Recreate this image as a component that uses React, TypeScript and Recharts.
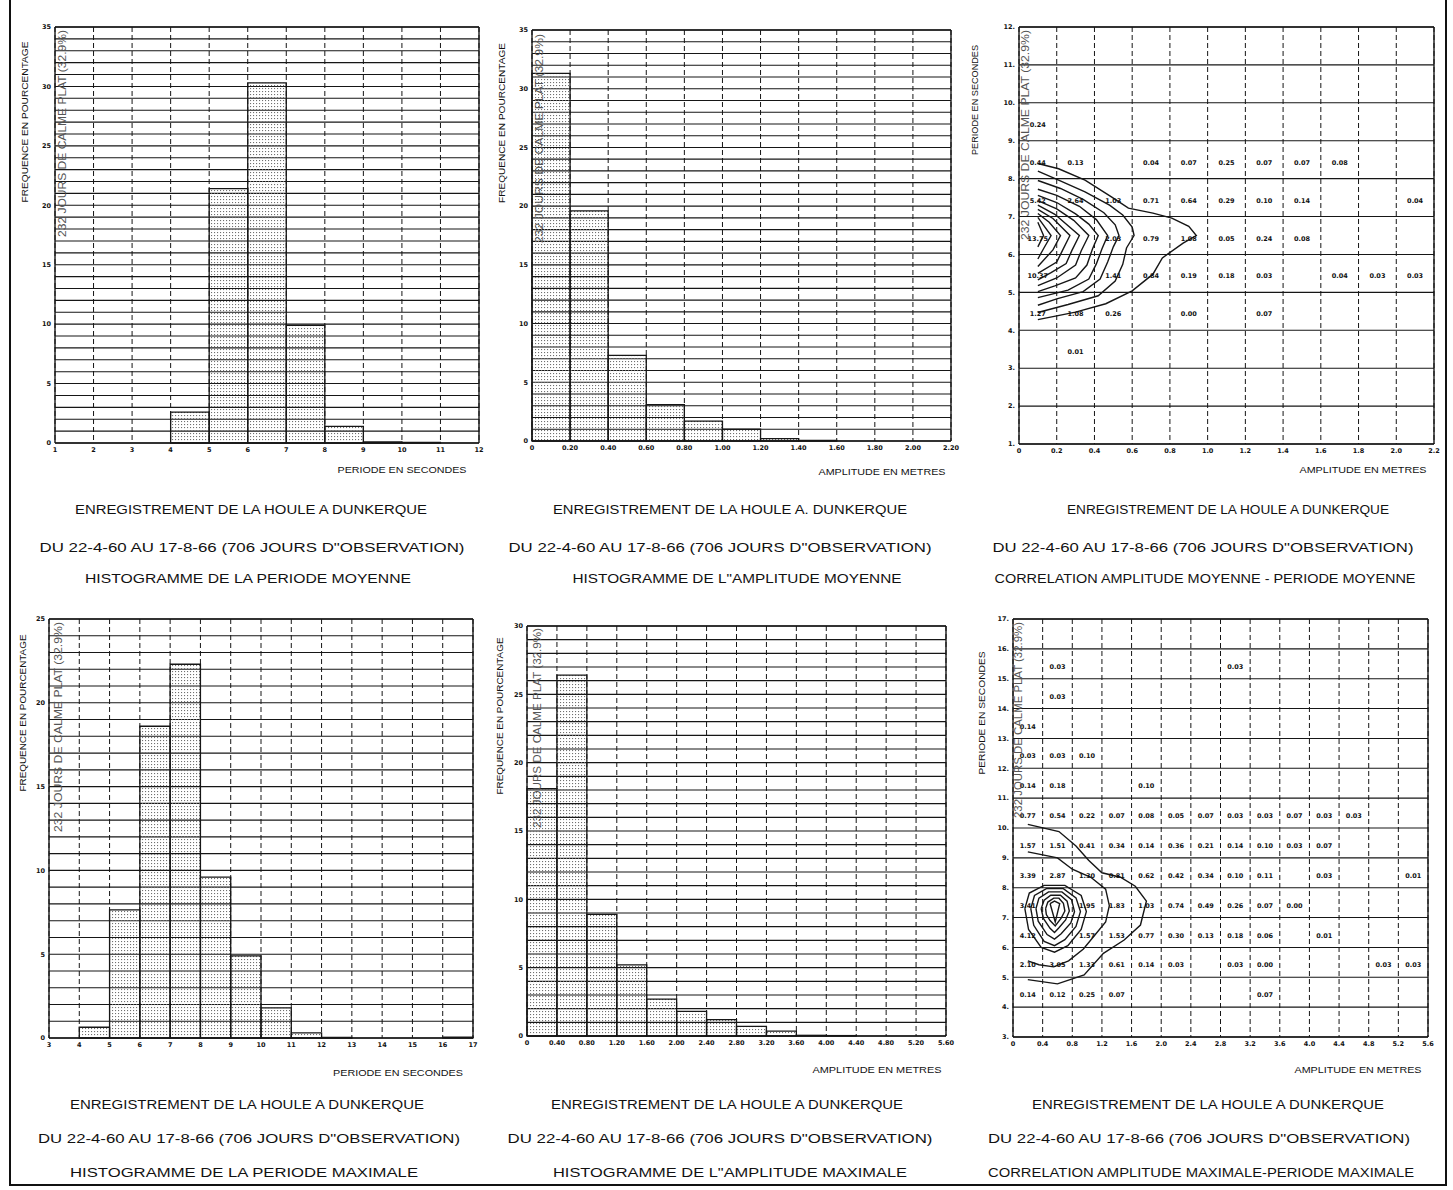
import React from "react";
import {
  ScatterChart,
  Scatter,
  XAxis,
  YAxis,
  CartesianGrid,
  ReferenceLine,
  ReferenceArea,
} from "recharts";

// ---- histogram: periode moyenne (s), bins of 1 s ----
const periodeMoyEdges = [1, 2, 3, 4, 5, 6, 7, 8, 9, 10, 11, 12];
const periodeMoyXLabels = ["1", "2", "3", "4", "5", "6", "7", "8", "9", "10", "11", "12"];
const periodeMoyPct = [0, 0, 0, 2.6, 21.4, 30.3, 9.9, 1.4, 0.1, 0.05, 0];

// ---- histogram: amplitude moyenne (m), bins of 0.20 m ----
const amplMoyEdges = [0, 0.2, 0.4, 0.6, 0.8, 1.0, 1.2, 1.4, 1.6, 1.8, 2.0, 2.2];
const amplMoyXLabels = ["0", "0.20", "0.40", "0.60", "0.80", "1.00", "1.20", "1.40", "1.60", "1.80", "2.00", "2.20"];
const amplMoyPct = [31.3, 19.6, 7.3, 3.1, 1.7, 1.0, 0.2, 0.05, 0, 0, 0];

// ---- histogram: periode maximale (s) ----
const periodeMaxEdges = [3, 4, 5, 6, 7, 8, 9, 10, 11, 12, 13, 14, 15, 16, 17];
const periodeMaxXLabels = ["3", "4", "5", "6", "7", "8", "9", "10", "11", "12", "13", "14", "15", "16", "17"];
const periodeMaxPct = [0, 0.64, 7.65, 18.6, 22.3, 9.6, 4.9, 1.8, 0.3, 0.03, 0, 0, 0, 0.05];

// ---- histogram: amplitude maximale (m), bins of 0.40 m ----
const amplMaxEdges = [0, 0.4, 0.8, 1.2, 1.6, 2.0, 2.4, 2.8, 3.2, 3.6, 4.0, 4.4, 4.8, 5.2, 5.6];
const amplMaxXLabels = ["0", "0.40", "0.80", "1.20", "1.60", "2.00", "2.40", "2.80", "3.20", "3.60", "4.00", "4.40", "4.80", "5.20", "5.60"];
const amplMaxPct = [18.1, 26.4, 8.9, 5.2, 2.7, 1.8, 1.2, 0.7, 0.35, 0.05, 0.03, 0, 0, 0];

// frequency axes (one grid line per percent)
const freqTicks35 = [0, 1, 2, 3, 4, 5, 6, 7, 8, 9, 10, 11, 12, 13, 14, 15, 16, 17, 18, 19, 20, 21, 22, 23, 24, 25, 26, 27, 28, 29, 30, 31, 32, 33, 34, 35];
const freqTicks30 = [0, 1, 2, 3, 4, 5, 6, 7, 8, 9, 10, 11, 12, 13, 14, 15, 16, 17, 18, 19, 20, 21, 22, 23, 24, 25, 26, 27, 28, 29, 30];
const freqTicks25 = [0, 1, 2, 3, 4, 5, 6, 7, 8, 9, 10, 11, 12, 13, 14, 15, 16, 17, 18, 19, 20, 21, 22, 23, 24, 25];

// ---- correlation amplitude moyenne / periode moyenne ----
const corrMoyXTicks = [0, 0.2, 0.4, 0.6, 0.8, 1.0, 1.2, 1.4, 1.6, 1.8, 2.0, 2.2];
const corrMoyXLabels = ["0", "0.2", "0.4", "0.6", "0.8", "1.0", "1.2", "1.4", "1.6", "1.8", "2.0", "2.2"];
const corrMoyYTicks = [1, 2, 3, 4, 5, 6, 7, 8, 9, 10, 11, 12];
const corrMoyYLabels = ["1.", "2.", "3.", "4.", "5.", "6.", "7.", "8.", "9.", "10.", "11.", "12."];
// [amplitude, periode, pourcentage]
const corrMoyCells: [number, number, string][] = [
  [0.1, 9.5, "0.24"],
  [0.1, 8.5, "0.44"], [0.3, 8.5, "0.13"], [0.7, 8.5, "0.04"], [0.9, 8.5, "0.07"], [1.1, 8.5, "0.25"], [1.3, 8.5, "0.07"], [1.5, 8.5, "0.07"], [1.7, 8.5, "0.08"],
  [0.1, 7.5, "5.42"], [0.3, 7.5, "2.64"], [0.5, 7.5, "1.03"], [0.7, 7.5, "0.71"], [0.9, 7.5, "0.64"], [1.1, 7.5, "0.29"], [1.3, 7.5, "0.10"], [1.5, 7.5, "0.14"], [2.1, 7.5, "0.04"],
  [0.1, 6.5, "13.75"], [0.5, 6.5, "2.03"], [0.7, 6.5, "0.79"], [0.9, 6.5, "1.08"], [1.1, 6.5, "0.05"], [1.3, 6.5, "0.24"], [1.5, 6.5, "0.08"],
  [0.1, 5.5, "10.37"], [0.5, 5.5, "1.41"], [0.7, 5.5, "0.84"], [0.9, 5.5, "0.19"], [1.1, 5.5, "0.18"], [1.3, 5.5, "0.03"], [1.7, 5.5, "0.04"], [1.9, 5.5, "0.03"], [2.1, 5.5, "0.03"],
  [0.1, 4.5, "1.27"], [0.3, 4.5, "1.08"], [0.5, 4.5, "0.26"], [0.9, 4.5, "0.00"], [1.3, 4.5, "0.07"],
  [0.3, 3.5, "0.01"],
];
const corrMoyContours: [number, number][][] = [
  [[0.1, 8.4], [0.21, 8.26], [0.35, 7.96], [0.49, 7.52], [0.58, 7.22], [0.71, 7.09], [0.81, 6.96], [0.9, 6.74], [0.94, 6.5], [0.87, 6.3], [0.76, 5.91], [0.71, 5.48], [0.6, 5.04], [0.46, 4.7], [0.3, 4.48], [0.1, 4.28]],
  [[0.1, 8.2], [0.21, 7.96], [0.35, 7.65], [0.48, 7.3], [0.55, 7.04], [0.6, 6.72], [0.61, 6.5], [0.57, 6.17], [0.55, 5.74], [0.51, 5.3], [0.42, 4.91], [0.26, 4.68], [0.1, 4.47]],
  [[0.1, 7.95], [0.22, 7.74], [0.34, 7.45], [0.45, 7.1], [0.51, 6.78], [0.53, 6.5], [0.5, 6.2], [0.47, 5.8], [0.43, 5.35], [0.34, 5.02], [0.2, 4.83], [0.1, 4.66]],
  [[0.1, 7.72], [0.2, 7.56], [0.32, 7.27], [0.41, 6.92], [0.47, 6.5], [0.44, 6.15], [0.41, 5.75], [0.37, 5.35], [0.26, 5.06], [0.1, 4.86]],
  [[0.1, 7.56], [0.2, 7.37], [0.3, 7.07], [0.37, 6.8], [0.42, 6.5], [0.39, 6.15], [0.36, 5.72], [0.3, 5.38], [0.19, 5.17], [0.1, 5.02]],
  [[0.1, 7.42], [0.2, 7.2], [0.29, 6.9], [0.37, 6.5], [0.33, 6.1], [0.3, 5.72], [0.2, 5.38], [0.1, 5.18]],
  [[0.1, 7.3], [0.19, 7.06], [0.32, 6.5], [0.28, 6.1], [0.25, 5.76], [0.17, 5.52], [0.1, 5.33]],
  [[0.1, 7.19], [0.18, 6.95], [0.27, 6.5], [0.23, 6.1], [0.2, 5.8], [0.1, 5.5]],
  [[0.1, 7.08], [0.16, 6.85], [0.22, 6.5], [0.18, 6.12], [0.1, 5.68]],
  [[0.1, 6.98], [0.17, 6.5], [0.13, 6.15], [0.1, 5.88]],
  [[0.1, 6.85], [0.13, 6.5], [0.1, 6.2]],
];

// ---- correlation amplitude maximale / periode maximale ----
const corrMaxXTicks = [0, 0.4, 0.8, 1.2, 1.6, 2.0, 2.4, 2.8, 3.2, 3.6, 4.0, 4.4, 4.8, 5.2, 5.6];
const corrMaxXLabels = ["0", "0.4", "0.8", "1.2", "1.6", "2.0", "2.4", "2.8", "3.2", "3.6", "4.0", "4.4", "4.8", "5.2", "5.6"];
const corrMaxYTicks = [3, 4, 5, 6, 7, 8, 9, 10, 11, 12, 13, 14, 15, 16, 17];
const corrMaxYLabels = ["3.", "4.", "5.", "6.", "7.", "8.", "9.", "10.", "11.", "12.", "13.", "14.", "15.", "16.", "17."];
const corrMaxCells: [number, number, string][] = [
  [0.6, 15.5, "0.03"], [3.0, 15.5, "0.03"],
  [0.6, 14.5, "0.03"],
  [0.2, 13.5, "0.14"],
  [0.2, 12.5, "0.03"], [0.6, 12.5, "0.03"], [1.0, 12.5, "0.10"],
  [0.2, 11.5, "0.14"], [0.6, 11.5, "0.18"], [1.8, 11.5, "0.10"],
  [0.2, 10.5, "0.77"], [0.6, 10.5, "0.54"], [1.0, 10.5, "0.22"], [1.4, 10.5, "0.07"], [1.8, 10.5, "0.08"], [2.2, 10.5, "0.05"], [2.6, 10.5, "0.07"], [3.0, 10.5, "0.03"], [3.4, 10.5, "0.03"], [3.8, 10.5, "0.07"], [4.2, 10.5, "0.03"], [4.6, 10.5, "0.03"],
  [0.2, 9.5, "1.57"], [0.6, 9.5, "1.51"], [1.0, 9.5, "0.41"], [1.4, 9.5, "0.34"], [1.8, 9.5, "0.14"], [2.2, 9.5, "0.36"], [2.6, 9.5, "0.21"], [3.0, 9.5, "0.14"], [3.4, 9.5, "0.10"], [3.8, 9.5, "0.03"], [4.2, 9.5, "0.07"],
  [0.2, 8.5, "3.39"], [0.6, 8.5, "2.87"], [1.0, 8.5, "1.30"], [1.4, 8.5, "0.81"], [1.8, 8.5, "0.62"], [2.2, 8.5, "0.42"], [2.6, 8.5, "0.34"], [3.0, 8.5, "0.10"], [3.4, 8.5, "0.11"], [4.2, 8.5, "0.03"], [5.4, 8.5, "0.01"],
  [0.2, 7.5, "3.41"], [1.0, 7.5, "1.95"], [1.4, 7.5, "1.83"], [1.8, 7.5, "1.03"], [2.2, 7.5, "0.74"], [2.6, 7.5, "0.49"], [3.0, 7.5, "0.26"], [3.4, 7.5, "0.07"], [3.8, 7.5, "0.00"],
  [0.2, 6.5, "4.12"], [1.0, 6.5, "1.57"], [1.4, 6.5, "1.53"], [1.8, 6.5, "0.77"], [2.2, 6.5, "0.30"], [2.6, 6.5, "0.13"], [3.0, 6.5, "0.18"], [3.4, 6.5, "0.06"], [4.2, 6.5, "0.01"],
  [0.2, 5.5, "2.10"], [0.6, 5.5, "3.05"], [1.0, 5.5, "1.33"], [1.4, 5.5, "0.61"], [1.8, 5.5, "0.14"], [2.2, 5.5, "0.03"], [3.0, 5.5, "0.03"], [3.4, 5.5, "0.00"], [5.0, 5.5, "0.03"], [5.4, 5.5, "0.03"],
  [0.2, 4.5, "0.14"], [0.6, 4.5, "0.12"], [1.0, 4.5, "0.25"], [1.4, 4.5, "0.07"], [3.4, 4.5, "0.07"],
];
const corrMaxContours: [number, number][][] = [
  [[0.2, 10.12], [0.62, 9.88], [0.85, 9.4], [1.02, 8.92], [1.2, 8.5], [1.45, 8.35], [1.65, 8.05], [1.8, 7.55], [1.72, 6.75], [1.5, 6.25], [1.22, 5.8], [0.96, 5.08], [0.6, 4.78], [0.2, 4.92]],
  [[0.2, 9.2], [0.6, 9.0], [0.8, 8.62], [1.05, 8.35], [1.25, 7.95], [1.3, 7.4], [1.25, 6.85], [1.1, 6.4], [0.95, 5.95], [0.75, 5.55], [0.55, 5.35], [0.35, 5.42], [0.2, 5.55]],
  [[0.16, 7.3], [0.22, 7.82], [0.42, 8.08], [0.7, 8.08], [0.92, 7.74], [0.99, 7.2], [0.92, 6.6], [0.74, 6.06], [0.56, 5.84], [0.38, 6.0], [0.21, 6.6], [0.16, 7.3]],
  [[0.24, 7.3], [0.29, 7.74], [0.45, 7.97], [0.68, 7.97], [0.85, 7.66], [0.91, 7.2], [0.85, 6.7], [0.7, 6.26], [0.56, 6.06], [0.42, 6.2], [0.28, 6.74], [0.24, 7.3]],
  [[0.31, 7.3], [0.35, 7.65], [0.48, 7.86], [0.66, 7.86], [0.79, 7.6], [0.83, 7.2], [0.78, 6.82], [0.65, 6.46], [0.56, 6.28], [0.46, 6.43], [0.34, 6.88], [0.31, 7.3]],
  [[0.38, 7.3], [0.42, 7.58], [0.51, 7.75], [0.64, 7.75], [0.73, 7.55], [0.76, 7.22], [0.71, 6.92], [0.62, 6.66], [0.56, 6.5], [0.5, 6.64], [0.41, 6.97], [0.38, 7.3]],
  [[0.44, 7.3], [0.47, 7.52], [0.55, 7.65], [0.62, 7.65], [0.68, 7.48], [0.7, 7.22], [0.65, 6.98], [0.57, 6.72], [0.5, 6.9], [0.45, 7.1], [0.44, 7.3]],
  [[0.5, 7.47], [0.56, 7.55], [0.63, 7.47], [0.57, 6.85], [0.5, 7.47]],
];

const TITLE_1 = "ENREGISTREMENT DE LA HOULE A  DUNKERQUE";
const TITLE_2 = "DU 22-4-60 AU 17-8-66 (706 JOURS D\"OBSERVATION)";
const CALME = "232 JOURS DE CALME PLAT (32.9%)";

const TICK_STYLE = { fontSize: 6.5, fontWeight: 700, fill: "#111", fontFamily: "DejaVu Sans" };
const INK = "#161616";
// room on the right of each plot so the last tick label is not clipped
const RIGHT_PAD = 14;

function labelFor(ticks: number[], labels: string[]) {
  return (v: number) => {
    const i = ticks.findIndex((t) => Math.abs(t - v) < 1e-6);
    return i >= 0 ? labels[i] : "";
  };
}

function Histogram({ id, plotX, plotY, plotW, plotH, edges, values, xLabels, yTicks }: any) {
  const xMin = edges[0];
  const xMax = edges[edges.length - 1];
  const yMax = yTicks[yTicks.length - 1];
  const bins = values.map((v: number, i: number) => ({ x1: edges[i], x2: edges[i + 1], v }));
  const tops = bins.map((b: any) => ({ x: (b.x1 + b.x2) / 2, y: b.v }));
  return (
    <div style={{ position: "absolute", left: plotX - 24, top: plotY - 5 }}>
      <ScatterChart
        width={plotW + 24 + RIGHT_PAD}
        height={plotH + 23}
        margin={{ top: 5, right: RIGHT_PAD, left: 0, bottom: 0 }}
      >
        <defs>
          <pattern id={id} width="3" height="3" patternUnits="userSpaceOnUse">
            <rect x="0" y="0" width="1.1" height="1.1" fill="#707070" />
          </pattern>
        </defs>
        <CartesianGrid vertical={false} stroke={INK} strokeWidth={1.1} />
        <CartesianGrid horizontal={false} stroke={INK} strokeWidth={1} strokeDasharray="5 3" />
        <XAxis
          type="number"
          dataKey="x"
          domain={[xMin, xMax]}
          ticks={edges}
          interval={0}
          allowDataOverflow
          tickFormatter={labelFor(edges, xLabels)}
          tick={TICK_STYLE}
          tickLine={false}
          tickSize={3}
          tickMargin={1}
          height={18}
          axisLine={{ stroke: INK, strokeWidth: 1.4 }}
        />
        <YAxis
          type="number"
          dataKey="y"
          domain={[0, yMax]}
          ticks={yTicks}
          interval={0}
          allowDataOverflow
          tickFormatter={(v: number) => (v % 5 === 0 ? String(v) : "")}
          tick={TICK_STYLE}
          tickLine={false}
          tickSize={2}
          tickMargin={2}
          width={24}
          axisLine={{ stroke: INK, strokeWidth: 1.4 }}
        />
        {bins
          .filter((b: any) => b.v > 0)
          .map((b: any, i: number) => (
            <ReferenceArea
              key={i}
              x1={b.x1}
              x2={b.x2}
              y1={0}
              y2={b.v}
              fill={`url(#${id})`}
              fillOpacity={1}
              stroke={INK}
              strokeWidth={1.3}
              ifOverflow="visible"
            />
          ))}
        <Scatter data={tops} shape={() => <g />} isAnimationActive={false} />
        <ReferenceLine x={xMax} stroke={INK} strokeWidth={1.4} />
        <ReferenceLine y={yMax} stroke={INK} strokeWidth={1.4} />
      </ScatterChart>
    </div>
  );
}

function CellText(p: any) {
  return (
    <text
      x={p.cx}
      y={p.cy + 3}
      textAnchor="middle"
      dominantBaseline="central"
      fontSize={6.5}
      fontWeight={700}
      fontFamily="DejaVu Sans"
      fill="#111"
    >
      {p.payload.v}
    </text>
  );
}

function Correlation({ plotX, plotY, plotW, plotH, xTicks, xLabels, yTicks, yLabels, cells, contours }: any) {
  const xMin = xTicks[0];
  const xMax = xTicks[xTicks.length - 1];
  const yMin = yTicks[0];
  const yMax = yTicks[yTicks.length - 1];
  const cellData = cells.map(([x, y, v]: [number, number, string]) => ({ x, y, v }));
  return (
    <div style={{ position: "absolute", left: plotX - 24, top: plotY - 5 }}>
      <ScatterChart
        width={plotW + 24 + RIGHT_PAD}
        height={plotH + 23}
        margin={{ top: 5, right: RIGHT_PAD, left: 0, bottom: 0 }}
      >
        <CartesianGrid vertical={false} stroke={INK} strokeWidth={1.1} />
        <CartesianGrid horizontal={false} stroke={INK} strokeWidth={1} strokeDasharray="5 3" />
        <XAxis
          type="number"
          dataKey="x"
          domain={[xMin, xMax]}
          ticks={xTicks}
          interval={0}
          allowDataOverflow
          tickFormatter={labelFor(xTicks, xLabels)}
          tick={TICK_STYLE}
          tickLine={false}
          tickSize={3}
          tickMargin={1}
          height={18}
          axisLine={{ stroke: INK, strokeWidth: 1.4 }}
        />
        <YAxis
          type="number"
          dataKey="y"
          domain={[yMin, yMax]}
          ticks={yTicks}
          interval={0}
          allowDataOverflow
          tickFormatter={labelFor(yTicks, yLabels)}
          tick={TICK_STYLE}
          tickLine={false}
          tickSize={2}
          tickMargin={2}
          width={24}
          axisLine={{ stroke: INK, strokeWidth: 1.4 }}
        />
        {contours.map((c: [number, number][], i: number) => (
          <Scatter
            key={i}
            data={c.map(([x, y]) => ({ x, y }))}
            fill="none"
            line={{ stroke: INK, strokeWidth: 1.4 }}
            shape={() => <g />}
            isAnimationActive={false}
          />
        ))}
        <Scatter data={cellData} shape={CellText} isAnimationActive={false} />
        <ReferenceLine x={xMax} stroke={INK} strokeWidth={1.4} />
        <ReferenceLine y={yMax} stroke={INK} strokeWidth={1.4} />
      </ScatterChart>
    </div>
  );
}

function Caption({ cx, y, w, children }: any) {
  return (
    <text x={cx} y={y} textAnchor="middle" textLength={w} lengthAdjust="spacingAndGlyphs" fontSize={12.5}>
      {children}
    </text>
  );
}

function VTitle({ cx, cy, len, children }: any) {
  return (
    <text
      x={cx + 3}
      y={cy}
      transform={`rotate(-90 ${cx + 3} ${cy})`}
      textAnchor="middle"
      textLength={len}
      lengthAdjust="spacingAndGlyphs"
      fontSize={8.5}
    >
      {children}
    </text>
  );
}

function HTitle({ cx, y, len, children }: any) {
  return (
    <text x={cx} y={y + 3} textAnchor="middle" textLength={len} lengthAdjust="spacingAndGlyphs" fontSize={8.5}>
      {children}
    </text>
  );
}

function Calme({ x, y0, y1 }: any) {
  return (
    <text
      x={x + 4}
      y={y0}
      transform={`rotate(-90 ${x + 4} ${y0})`}
      textLength={y0 - y1}
      lengthAdjust="spacingAndGlyphs"
      fontSize={10}
      fill="#555"
    >
      {CALME}
    </text>
  );
}

export default function App() {
  return (
    <div
      style={{
        position: "absolute",
        left: 0,
        top: 0,
        width: 1453,
        height: 1190,
        background: "#fff",
        overflow: "hidden",
      }}
    >
      <div
        style={{
          position: "absolute",
          left: 9,
          top: -4,
          width: 1434,
          height: 1188,
          borderLeft: "2px solid #111",
          borderRight: "2px solid #111",
          borderBottom: "2px solid #111",
        }}
      />

      <Histogram id="dotsPM" plotX={55} plotY={27} plotW={424} plotH={416}
        edges={periodeMoyEdges} values={periodeMoyPct} xLabels={periodeMoyXLabels} yTicks={freqTicks35} />
      <Histogram id="dotsAM" plotX={532} plotY={30} plotW={419} plotH={411}
        edges={amplMoyEdges} values={amplMoyPct} xLabels={amplMoyXLabels} yTicks={freqTicks35} />
      <Correlation plotX={1019} plotY={27} plotW={415} plotH={417}
        xTicks={corrMoyXTicks} xLabels={corrMoyXLabels} yTicks={corrMoyYTicks} yLabels={corrMoyYLabels}
        cells={corrMoyCells} contours={corrMoyContours} />

      <Histogram id="dotsPX" plotX={49} plotY={619} plotW={424} plotH={419}
        edges={periodeMaxEdges} values={periodeMaxPct} xLabels={periodeMaxXLabels} yTicks={freqTicks25} />
      <Histogram id="dotsAX" plotX={527} plotY={626} plotW={419} plotH={410}
        edges={amplMaxEdges} values={amplMaxPct} xLabels={amplMaxXLabels} yTicks={freqTicks30} />
      <Correlation plotX={1013} plotY={619} plotW={415} plotH={418}
        xTicks={corrMaxXTicks} xLabels={corrMaxXLabels} yTicks={corrMaxYTicks} yLabels={corrMaxYLabels}
        cells={corrMaxCells} contours={corrMaxContours} />

      <svg
        width={1453}
        height={1190}
        style={{ position: "absolute", left: 0, top: 0, pointerEvents: "none" }}
        fontFamily="Liberation Sans"
        fill="#111"
      >
        <VTitle cx={25} cy={122} len={161}>FREQUENCE EN POURCENTAGE</VTitle>
        <VTitle cx={502} cy={123} len={160}>FREQUENCE EN POURCENTAGE</VTitle>
        <VTitle cx={975} cy={100} len={110}>PERIODE EN SECONDES</VTitle>
        <VTitle cx={23} cy={713} len={157}>FREQUENCE EN POURCENTAGE</VTitle>
        <VTitle cx={500} cy={716} len={157}>FREQUENCE EN POURCENTAGE</VTitle>
        <VTitle cx={982} cy={713} len={123}>PERIODE EN SECONDES</VTitle>

        <HTitle cx={402} y={470} len={129}>PERIODE EN SECONDES</HTitle>
        <HTitle cx={882} y={472} len={127}>AMPLITUDE EN METRES</HTitle>
        <HTitle cx={1363} y={470} len={127}>AMPLITUDE EN METRES</HTitle>
        <HTitle cx={398} y={1073} len={130}>PERIODE EN SECONDES</HTitle>
        <HTitle cx={877} y={1070} len={129}>AMPLITUDE EN METRES</HTitle>
        <HTitle cx={1358} y={1070} len={127}>AMPLITUDE EN METRES</HTitle>

        <Calme x={62} y0={237} y1={30} />
        <Calme x={539} y0={243} y1={34} />
        <Calme x={1025} y0={240} y1={30} />
        <Calme x={58} y0={832} y1={622} />
        <Calme x={537} y0={828} y1={628} />
        <Calme x={1018} y0={818} y1={622} />

        <Caption cx={251} y={514} w={352}>{TITLE_1}</Caption>
        <Caption cx={252} y={552} w={425}>{TITLE_2}</Caption>
        <Caption cx={248} y={583} w={326}>HISTOGRAMME DE LA PERIODE MOYENNE</Caption>
        <Caption cx={730} y={514} w={354}>ENREGISTREMENT DE LA HOULE A. DUNKERQUE</Caption>
        <Caption cx={720} y={552} w={423}>{TITLE_2}</Caption>
        <Caption cx={737} y={583} w={329}>HISTOGRAMME DE L"AMPLITUDE MOYENNE</Caption>
        <Caption cx={1228} y={514} w={322}>{TITLE_1}</Caption>
        <Caption cx={1203} y={552} w={421}>{TITLE_2}</Caption>
        <Caption cx={1205} y={583} w={421}>CORRELATION AMPLITUDE MOYENNE - PERIODE MOYENNE</Caption>

        <Caption cx={247} y={1109} w={354}>{TITLE_1}</Caption>
        <Caption cx={249} y={1143} w={422}>{TITLE_2}</Caption>
        <Caption cx={244} y={1177} w={348}>HISTOGRAMME DE LA PERIODE MAXIMALE</Caption>
        <Caption cx={727} y={1109} w={352}>{TITLE_1}</Caption>
        <Caption cx={720} y={1143} w={425}>{TITLE_2}</Caption>
        <Caption cx={730} y={1177} w={354}>HISTOGRAMME DE L"AMPLITUDE MAXIMALE</Caption>
        <Caption cx={1208} y={1109} w={352}>{TITLE_1}</Caption>
        <Caption cx={1199} y={1143} w={422}>{TITLE_2}</Caption>
        <Caption cx={1201} y={1177} w={426}>CORRELATION AMPLITUDE MAXIMALE-PERIODE MAXIMALE</Caption>
      </svg>
    </div>
  );
}
